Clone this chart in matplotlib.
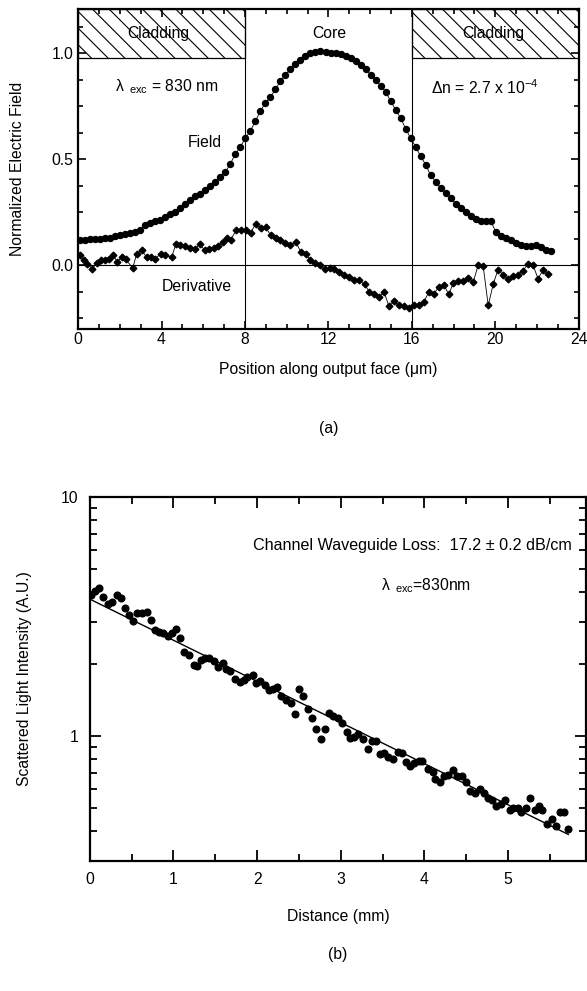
import numpy as np
import matplotlib.pyplot as plt
from matplotlib.patches import Rectangle
from matplotlib.ticker import MultipleLocator, LogLocator, NullFormatter, FuncFormatter

plt.rcParams['font.family'] = ['Liberation Sans', 'DejaVu Sans']
plt.rcParams['mathtext.fontset'] = 'custom'
plt.rcParams['mathtext.rm'] = 'Liberation Sans'
plt.rcParams['mathtext.it'] = 'Liberation Sans:italic'
plt.rcParams['hatch.linewidth'] = 0.8

# ---- panel (a): mode profile at the output face ----
field_pos = [0.10, 0.34, 0.58, 0.82, 1.06, 1.30, 1.54, 1.78, 2.02, 2.26, 2.50, 2.74,
             2.98, 3.22, 3.46, 3.70, 3.94, 4.18, 4.42, 4.66, 4.90, 5.14, 5.38, 5.62,
             5.86, 6.10, 6.34, 6.58, 6.82, 7.06, 7.30, 7.54, 7.78, 8.02, 8.26, 8.50,
             8.74, 8.98, 9.22, 9.46, 9.70, 9.94, 10.18, 10.42, 10.66, 10.90, 11.14,
             11.38, 11.62, 11.86, 12.10, 12.34, 12.58, 12.82, 13.06, 13.30, 13.54,
             13.78, 14.02, 14.26, 14.50, 14.74, 14.98, 15.22, 15.46, 15.70, 15.94,
             16.18, 16.42, 16.66, 16.90, 17.14, 17.38, 17.62, 17.86, 18.10, 18.34,
             18.58, 18.82, 19.06, 19.30, 19.54, 19.78, 20.02, 20.26, 20.50, 20.74,
             20.98, 21.22, 21.46, 21.70, 21.94, 22.18, 22.42, 22.66]
field_val = [0.118, 0.121, 0.123, 0.124, 0.124, 0.127, 0.130, 0.137, 0.142, 0.146,
             0.153, 0.160, 0.165, 0.189, 0.200, 0.208, 0.215, 0.228, 0.241, 0.252,
             0.270, 0.291, 0.307, 0.327, 0.338, 0.357, 0.377, 0.393, 0.417, 0.440,
             0.480, 0.525, 0.560, 0.600, 0.635, 0.680, 0.730, 0.765, 0.795, 0.830,
             0.870, 0.900, 0.925, 0.950, 0.970, 0.990, 1.000, 1.008, 1.011, 1.008,
             1.003, 1.003, 0.998, 0.990, 0.978, 0.963, 0.945, 0.925, 0.900, 0.877,
             0.847, 0.820, 0.775, 0.735, 0.695, 0.645, 0.600, 0.560, 0.515, 0.475,
             0.425, 0.395, 0.365, 0.343, 0.320, 0.290, 0.270, 0.253, 0.235, 0.220,
             0.211, 0.210, 0.210, 0.158, 0.141, 0.131, 0.120, 0.107, 0.098, 0.091,
             0.092, 0.094, 0.085, 0.075, 0.068]

deriv_pos = [0.10, 0.27, 0.45, 0.68, 0.89, 1.10, 1.29, 1.48, 1.69, 1.88, 2.09, 2.28,
             2.62, 2.81, 3.05, 3.29, 3.48, 3.69, 3.96, 4.17, 4.49, 4.69, 4.89, 5.12,
             5.36, 5.60, 5.84, 6.08, 6.29, 6.51, 6.72, 6.93, 7.12, 7.31, 7.57, 7.79,
             8.05, 8.27, 8.51, 8.75, 8.99, 9.23, 9.47, 9.68, 9.92, 10.18, 10.44, 10.68,
             10.92, 11.11, 11.35, 11.59, 11.83, 12.07, 12.28, 12.52, 12.76, 13.00,
             13.22, 13.45, 13.75, 13.96, 14.19, 14.43, 14.67, 14.90, 15.15, 15.38,
             15.62, 15.86, 16.10, 16.34, 16.57, 16.81, 17.05, 17.29, 17.53, 17.77,
             17.98, 18.22, 18.46, 18.70, 18.94, 19.18, 19.42, 19.66, 19.90, 20.13,
             20.37, 20.61, 20.85, 21.09, 21.33, 21.57, 21.81, 22.05, 22.29, 22.53]
deriv_val = [0.050, 0.024, 0.008, -0.016, 0.011, 0.024, 0.027, 0.030, 0.047, 0.016,
             0.039, 0.030, -0.013, 0.055, 0.071, 0.039, 0.039, 0.030, 0.055, 0.050,
             0.039, 0.102, 0.094, 0.090, 0.083, 0.078, 0.099, 0.071, 0.078, 0.083,
             0.090, 0.110, 0.130, 0.120, 0.165, 0.165, 0.165, 0.153, 0.197, 0.178,
             0.181, 0.142, 0.131, 0.118, 0.105, 0.097, 0.110, 0.063, 0.055, 0.027,
             0.013, 0.000, -0.019, -0.011, -0.019, -0.031, -0.047, -0.055, -0.068,
             -0.070, -0.090, -0.126, -0.134, -0.149, -0.126, -0.192, -0.170, -0.189,
             -0.193, -0.201, -0.186, -0.189, -0.173, -0.126, -0.134, -0.102, -0.091,
             -0.137, -0.083, -0.074, -0.074, -0.058, -0.079, 0.003, -0.005, -0.189,
             -0.087, -0.020, -0.043, -0.063, -0.052, -0.043, -0.024, 0.008, 0.000,
             -0.063, -0.020, -0.039]

core_edges = [8, 16]
region_names = ['Cladding', 'Core', 'Cladding']
region_label_x = [3.85, 12.05, 19.9]

# ---- panel (b): scattered light along the channel ----
distance = [0.01, 0.06, 0.11, 0.16, 0.22, 0.27, 0.32, 0.37, 0.42, 0.47, 0.52, 0.57,
            0.62, 0.68, 0.73, 0.78, 0.83, 0.88, 0.93, 0.98, 1.03, 1.08, 1.13, 1.18,
            1.24, 1.28, 1.33, 1.38, 1.43, 1.48, 1.53, 1.59, 1.63, 1.68, 1.74, 1.79,
            1.84, 1.88, 1.95, 1.99, 2.04, 2.09, 2.14, 2.19, 2.24, 2.29, 2.34, 2.40,
            2.45, 2.50, 2.55, 2.61, 2.66, 2.71, 2.76, 2.81, 2.86, 2.91, 2.97, 3.02,
            3.07, 3.11, 3.16, 3.21, 3.27, 3.32, 3.37, 3.42, 3.47, 3.52, 3.57, 3.63,
            3.69, 3.73, 3.78, 3.83, 3.87, 3.93, 3.97, 4.04, 4.10, 4.13, 4.19, 4.23,
            4.28, 4.34, 4.39, 4.45, 4.50, 4.55, 4.60, 4.66, 4.71, 4.76, 4.81, 4.86,
            4.91, 4.96, 5.02, 5.06, 5.12, 5.16, 5.22, 5.26, 5.32, 5.37, 5.41, 5.46,
            5.52, 5.57, 5.62, 5.67, 5.72]
intensity = [3.89, 4.06, 4.16, 3.82, 3.56, 3.64, 3.89, 3.77, 3.45, 3.20, 3.03, 3.26,
             3.26, 3.29, 3.05, 2.79, 2.72, 2.69, 2.62, 2.70, 2.81, 2.57, 2.24, 2.19,
             1.98, 1.97, 2.08, 2.13, 2.13, 2.06, 1.95, 2.03, 1.90, 1.88, 1.73, 1.69,
             1.72, 1.76, 1.80, 1.67, 1.70, 1.63, 1.56, 1.57, 1.61, 1.47, 1.42, 1.37,
             1.24, 1.57, 1.47, 1.30, 1.19, 1.07, 0.97, 1.07, 1.25, 1.21, 1.19, 1.14,
             1.04, 0.98, 0.99, 1.02, 0.97, 0.88, 0.95, 0.95, 0.84, 0.85, 0.82, 0.80,
             0.86, 0.85, 0.78, 0.75, 0.77, 0.79, 0.79, 0.73, 0.71, 0.66, 0.64, 0.68,
             0.69, 0.72, 0.68, 0.68, 0.64, 0.59, 0.58, 0.60, 0.58, 0.55, 0.54, 0.51,
             0.52, 0.54, 0.49, 0.50, 0.50, 0.48, 0.50, 0.55, 0.49, 0.51, 0.49, 0.43,
             0.45, 0.42, 0.48, 0.48, 0.41]
loss_db_cm = 17.2     # fitted loss
fit_i0 = 3.74         # fitted intensity at 0 mm

FS = 11.3

fig = plt.figure(figsize=(5.87, 9.91), dpi=100)

# ================= (a) =================
ax1 = fig.add_axes([0.133, 0.668, 0.853, 0.323])
ax1.set_xlim(0, 24)
ax1.set_ylim(-0.3, 1.21)

top = ax1.get_ylim()[1]
clad_bottom = 0.98
for x0, x1 in [(0, core_edges[0]), (core_edges[1], 24)]:
    ax1.add_patch(Rectangle((x0, clad_bottom), x1 - x0, top - clad_bottom,
                            facecolor='white', edgecolor='black', hatch='\\\\',
                            linewidth=0.9, zorder=1))
for xe in core_edges:
    ax1.axvline(xe, color='black', lw=0.8, zorder=1)
ax1.axhline(0, color='black', lw=0.8, zorder=1)

ax1.plot(field_pos, field_val, '-o', color='black', ms=4.3, lw=0.6, zorder=3)
ax1.plot(deriv_pos, deriv_val, '-D', color='black', ms=3.4, lw=0.6, zorder=3)

for xc, name in zip(region_label_x, region_names):
    ax1.text(xc, 1.094, name, ha='center', va='center', fontsize=FS, zorder=4)

ax1.text(4.26, 0.845, '\u03bb$_{\\ \\ \\rm exc}$ = 830 nm', ha='center', va='center', fontsize=FS)
ax1.text(19.5, 0.84, '\u0394n = 2.7 x 10$^{-4}$', ha='center', va='center', fontsize=FS)
ax1.text(6.08, 0.58, 'Field', ha='center', va='center', fontsize=FS)
ax1.text(5.7, -0.10, 'Derivative', ha='center', va='center', fontsize=FS)

ax1.xaxis.set_major_locator(MultipleLocator(4))
ax1.xaxis.set_minor_locator(MultipleLocator(1))
ax1.yaxis.set_major_locator(MultipleLocator(0.5))
ax1.yaxis.set_minor_locator(MultipleLocator(0.125))
ax1.yaxis.set_major_formatter(FuncFormatter(lambda v, p: '%.1f' % v))
ax1.tick_params(which='both', direction='in', top=True, right=True, labelsize=FS, width=1.2)
ax1.tick_params(axis='x', pad=2)
ax1.tick_params(which='major', length=6)
ax1.tick_params(which='minor', length=3.5)
for s in ax1.spines.values():
    s.set_linewidth(1.6)
ax1.set_xlabel('Position along output face (\u03bcm)', fontsize=FS, va='center')
ax1.xaxis.set_label_coords(0.5, -0.128)
ax1.set_ylabel('Normalized Electric Field', fontsize=FS, va='center')
ax1.yaxis.set_label_coords(-0.12, 0.5)
ax1.text(0.5, -0.31, '(a)', transform=ax1.transAxes, ha='center', va='center', fontsize=FS)

# ================= (b) =================
ax2 = fig.add_axes([0.153, 0.131, 0.845, 0.3675])
ax2.set_yscale('log')
ax2.set_xlim(0, 5.93)
ax2.set_ylim(0.3, 10)

ax2.plot(distance, intensity, 'o', color='black', ms=4.8, zorder=3)
x_fit = np.array([0, distance[-1]])
ax2.plot(x_fit, fit_i0 * 10 ** (-loss_db_cm / 100 * x_fit), color='black', lw=1.0, zorder=2)

ax2.text(3.86, 6.26, 'Channel Waveguide Loss:  17.2 \u00b1 0.2 dB/cm', ha='center', va='center', fontsize=FS + 0.3)
ax2.text(4.02, 4.24, '\u03bb$_{\\ \\ \\rm exc}$=830nm', ha='center', va='center', fontsize=FS)

ax2.xaxis.set_major_locator(MultipleLocator(1))
ax2.xaxis.set_minor_locator(MultipleLocator(0.5))
ax2.yaxis.set_major_locator(LogLocator(base=10, numticks=5))
ax2.yaxis.set_minor_locator(LogLocator(base=10, subs=np.arange(2, 10) * 1.0, numticks=10))
ax2.yaxis.set_major_formatter(FuncFormatter(lambda v, p: '%g' % v))
ax2.yaxis.set_minor_formatter(NullFormatter())
ax2.tick_params(which='both', direction='in', top=True, right=True, labelsize=FS, width=1.3, pad=8)
ax2.tick_params(which='major', length=8)
ax2.tick_params(which='minor', length=5)
for s in ax2.spines.values():
    s.set_linewidth(1.6)
ax2.set_xlabel('Distance (mm)', fontsize=FS, va='center')
ax2.xaxis.set_label_coords(0.5, -0.151)
ax2.set_ylabel('Scattered Light Intensity (A.U.)', fontsize=FS, va='center')
ax2.yaxis.set_label_coords(-0.131, 0.5)
ax2.text(0.5, -0.255, '(b)', transform=ax2.transAxes, ha='center', va='center', fontsize=FS)

fig.savefig('out.png', dpi=100)
